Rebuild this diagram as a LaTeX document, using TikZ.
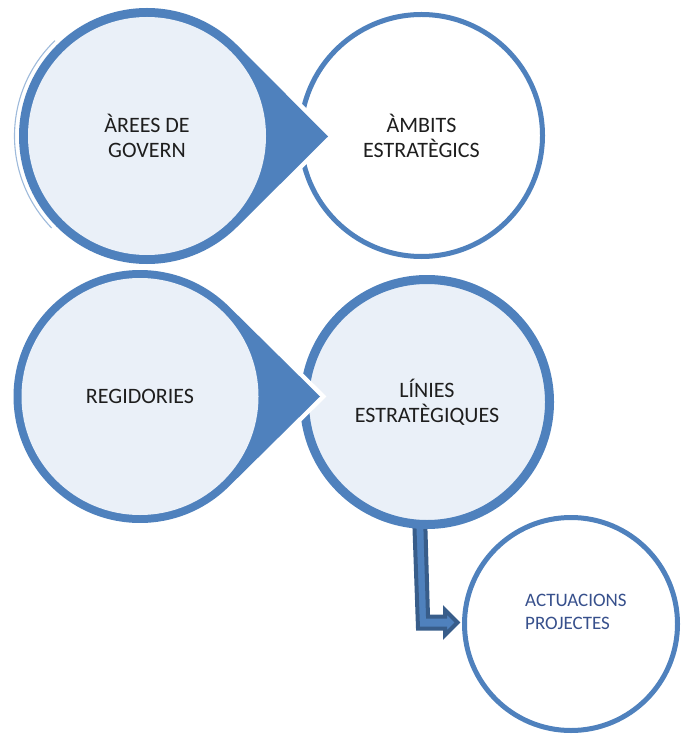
\documentclass[tikz,border=0pt]{standalone}
\usepackage{fontspec}
\setmainfont{Carlito}
\usetikzlibrary{calc,backgrounds}
\definecolor{ringblue}{RGB}{79,129,189}
\definecolor{lightfill}{RGB}{234,240,248}
\definecolor{arrowdark}{RGB}{56,93,138}
\definecolor{textblue}{RGB}{55,80,140}
\definecolor{maintext}{RGB}{30,30,30}
\begin{document}
\begin{tikzpicture}[x=1pt,y=-1pt,
  ring/.style={circle, draw=ringblue, inner sep=0pt, outer sep=0pt, align=center,
    text=maintext, font=\fontsize{22}{25}\selectfont},
  innerdisc/.style={circle, fill=lightfill, inner sep=0pt, outer sep=0pt, align=center,
    text=maintext, font=\fontsize{22}{25}\selectfont},
  tearhalo/.style={draw=white, line width=9pt},
  tearfill/.style={fill=ringblue},
  blockarrow/.style={fill=ringblue, draw=arrowdark, line width=4pt, line join=miter}
]
\useasboundingbox (0,0) rectangle (681,735);

% right-hand circles
\node[ring, line width=5pt, fill=white, minimum size=242pt] (amb) at (421.5,135.5) {ÀMBITS\\ESTRATÈGICS};
\node[ring, line width=9pt, fill=lightfill, minimum size=245pt] (lin) at (427,402) {LÍNIES\\ESTRATÈGIQUES};
\node[ring, line width=5pt, fill=white, minimum size=213pt] (act) at (571,624) {};
\node[anchor=west, align=left, text=textblue, inner sep=0pt,
      font=\fontsize{19}{23}\selectfont] (acttext) at (525,611.5) {ACTUACIONS\\PROJECTES};

% bent arrow from LINIES to ACTUACIONS
\coordinate (ashaft) at (lin.south -| 419.5,0);
\coordinate (atip) at ($(act.west)+(-5,-1.5)$);
\begin{scope}[on background layer]
\draw[blockarrow] ($(ashaft)+(-5.5,-10)$) -- ($(atip)+(-41.5,6)$) -- ($(atip)+(-14.5,6)$)
  -- ($(atip)+(-14.5,12.5)$) -- ($(atip)+(-2,0)$) -- ($(atip)+(-14.5,-12.5)$)
  -- ($(atip)+(-14.5,-6)$) -- ($(atip)+(-31.5,-6)$) -- ($(ashaft)+(5.5,-10)$) -- cycle;
\end{scope}

% top-left teardrop
\coordinate (cA) at (147,136);
\coordinate (tA) at (328,136.5);
\path[tearhalo] (tA) -- ($(cA)+(45:128)$) arc[start angle=45, end angle=315, radius=128] -- cycle;
\fill[tearfill] (tA) -- ($(cA)+(45:128)$) arc[start angle=45, end angle=315, radius=128] -- cycle;
\draw[ringblue!55, line width=1.1pt] ($(cA)+(136:132.5)$) arc[start angle=136, end angle=226, radius=132.5];
\node[innerdisc, minimum size=238pt] (ag) at (cA) {ÀREES DE\\GOVERN};

% middle-left teardrop
\coordinate (cB) at (140,396.5);
\coordinate (tB) at (320,396.5);
\path[tearhalo] (tB) -- ($(cB)+(45.3:126.5)$) arc[start angle=45.3, end angle=314.7, radius=126.5] -- cycle;
\fill[tearfill] (tB) -- ($(cB)+(45.3:126.5)$) arc[start angle=45.3, end angle=314.7, radius=126.5] -- cycle;
\node[innerdisc, minimum size=237pt] (reg) at (cB) {REGIDORIES};

\end{tikzpicture}
\end{document}
